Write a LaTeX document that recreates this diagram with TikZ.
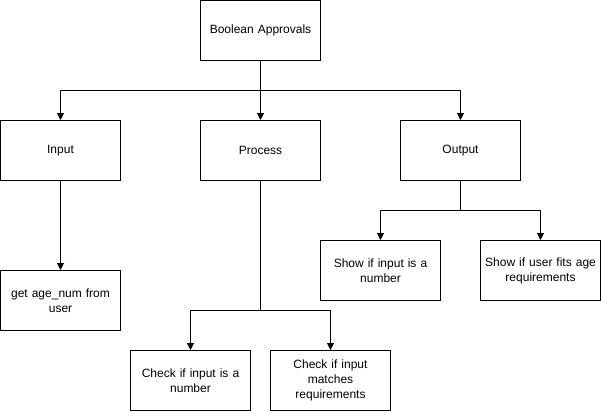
\documentclass[tikz,border=0pt]{standalone}
\usepackage{fontspec}
\setmainfont{Liberation Sans}
\usetikzlibrary{arrows.meta}
\begin{document}
\begin{tikzpicture}[x=1pt,y=-1pt,
  box/.style={draw=black,line width=1pt,minimum width=120pt,minimum height=60pt,inner sep=0pt,align=center,text width=114pt,font=\fontsize{12}{15}\selectfont},
  conn/.style={draw=black,line width=1pt,-{Triangle[width=7pt,length=7pt]}}]
\useasboundingbox[fill=white] (0,0) rectangle (601,412);
\node[box] (ba) at (260.5,30.5) {Boolean Approvals};
\node[box] (in) at (60.5,150.5) {Input};
\node[box] (pr) at (260.5,150.5) {Process};
\node[box] (out) at (460.5,150.5) {Output};
\node[box] (get) at (60.5,300.5) {get age\_num from\\user};
\node[box] (s1) at (380.5,270.5) {Show if input is a\\number};
\node[box] (s2) at (540.5,270.5) {Show if user fits age\\requirements};
\node[box] (c1) at (190.5,380.5) {Check if input is a\\number};
\node[box] (c2) at (330.5,380.5) {Check if input\\matches\\requirements};
\coordinate (j1) at (260.5,90.5);
\coordinate (j2) at (260.5,310.5);
\coordinate (j3) at (460.5,210.5);
\draw[conn] (ba.south) -- (j1) -| (in.north);
\draw[conn] (j1) -- (pr.north);
\draw[conn] (j1) -| (out.north);
\draw[conn] (in.south) -- (get.north);
\draw[conn] (pr.south) -- (j2) -| (c1.north);
\draw[conn] (j2) -| (c2.north);
\draw[conn] (out.south) -- (j3) -| (s1.north);
\draw[conn] (j3) -| (s2.north);
\end{tikzpicture}
\end{document}
